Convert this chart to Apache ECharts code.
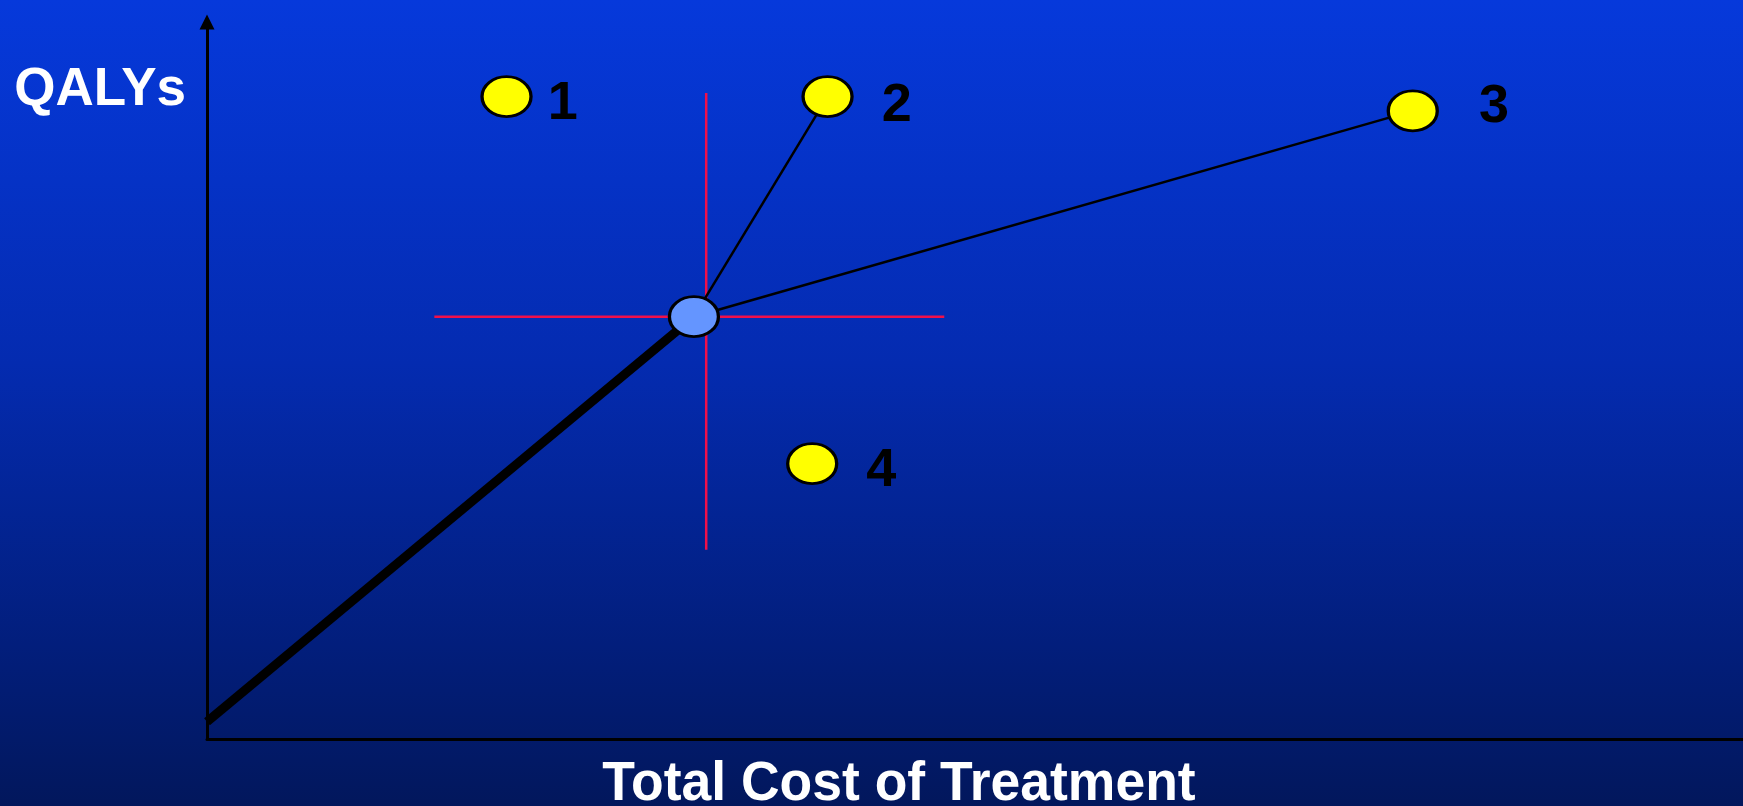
<!DOCTYPE html>
<html>
<head>
<meta charset="utf-8">
<script src="https://cdn.jsdelivr.net/npm/echarts@6/dist/echarts.min.js"></script>
<style>
  html, body { margin: 0; padding: 0; }
  #chart { width: 1743px; height: 806px; }
</style>
</head>
<body>
<div id="chart"></div>
<script>
// options on the cost / QALY plane
const optNames = ["1", "2", "3", "4"];
const optCost = [19.5, 40.4, 78.5, 39.4];
const optQaly = [89.6, 89.6, 87.6, 38.4];

// current treatment and the path from the origin to it
const current = [31.7, 58.9];
const origin = [0, 2.4];

// options joined to the current treatment
const linked = ["2", "3"];

// red crosshair through the current treatment
const crossV = [[32.5, 90.1], [32.5, 26.4]];
const crossLeft = [[14.8, 58.9], [30.3, 58.9]];
const crossRight = [[32.5, 58.9], [48.0, 58.9]];

// label nudges (px) for the option numbers
const labelNudge = { "1": [15, 8], "2": [28, 10], "3": [40, -4], "4": [28, 7] };

const myChart = echarts.init(document.getElementById("chart"));

const lineSeries = (data, color, width) => ({
  type: "line",
  data: data,
  symbol: "none",
  silent: true,
  lineStyle: { color: color, width: width },
  z: 2,
});

const series = [
  lineSeries(crossV, "#f0104a", 2.5),
  lineSeries(crossLeft, "#f0104a", 2.5),
  lineSeries(crossRight, "#f0104a", 2.5),
  lineSeries([origin, current], "#000", 9),
];
linked.forEach((n) => {
  const i = optNames.indexOf(n);
  series.push(lineSeries([current, [optCost[i], optQaly[i]]], "#000", 2.5));
});

series.push({
  type: "scatter",
  symbol: "circle",
  symbolSize: [49, 40],
  itemStyle: { color: "#ffff00", borderColor: "#000", borderWidth: 3, opacity: 1 },
  z: 5,
  data: optNames.map((n, i) => ({
    value: [optCost[i], optQaly[i]],
    label: {
      show: true,
      position: "right",
      distance: labelNudge[n][0],
      offset: [0, labelNudge[n][1]],
      formatter: n,
      color: "#000",
      fontSize: 54,
      fontWeight: "bold",
      fontFamily: "Liberation Sans, Arial, sans-serif",
    },
  })),
});
series.push({
  type: "scatter",
  symbol: "circle",
  symbolSize: [49, 40],
  itemStyle: { color: "#6495ff", borderColor: "#000", borderWidth: 3, opacity: 1 },
  z: 5,
  data: [current],
});

const option = {
  animation: false,
  backgroundColor: {
    type: "linear",
    x: 0, y: 0, x2: 0, y2: 1,
    colorStops: [
      { offset: 0, color: "#0639db" },
      { offset: 0.45, color: "#042bb0" },
      { offset: 0.8, color: "#021e7c" },
      { offset: 1, color: "#02175c" },
    ],
  },
  grid: { left: 207, right: 0, top: 22, bottom: 67 },
  xAxis: {
    type: "value",
    min: 0,
    max: 100,
    axisLine: { show: true, lineStyle: { color: "#000", width: 3 } },
    axisTick: { show: false },
    axisLabel: { show: false },
    splitLine: { show: false },
  },
  yAxis: {
    type: "value",
    min: 0,
    max: 100,
    axisLine: {
      show: true,
      symbol: ["none", "triangle"],
      symbolSize: [15, 15],
      lineStyle: { color: "#000", width: 3 },
    },
    axisTick: { show: false },
    axisLabel: { show: false },
    splitLine: { show: false },
  },
  graphic: [
    {
      type: "text",
      x: 186,
      y: 90,
      style: {
        text: "QALYs",
        align: "right",
        verticalAlign: "middle",
        fill: "#fff",
        font: "bold 53px 'Liberation Sans', Arial, sans-serif",
      },
    },
    {
      type: "text",
      x: 899,
      y: 785,
      scaleX: 0.955,
      style: {
        text: "Total Cost of Treatment",
        align: "center",
        verticalAlign: "middle",
        fill: "#fff",
        font: "bold 56px 'Liberation Sans', Arial, sans-serif",
      },
    },
  ],
  series: series,
};
myChart.setOption(option);
</script>
</body>
</html>
